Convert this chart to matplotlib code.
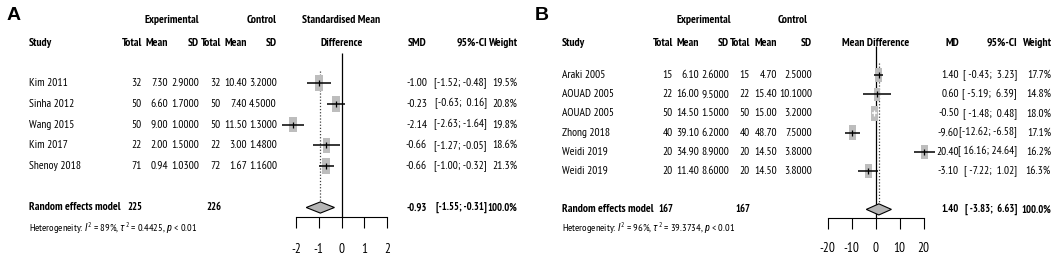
import numpy as np
import matplotlib
matplotlib.use("Agg")
import matplotlib.pyplot as plt
import matplotlib.transforms as mtransforms
from matplotlib.path import Path
from matplotlib.patches import Polygon

plt.rcParams["font.family"] = ["PT Sans Narrow", "Liberation Sans", "DejaVu Sans"]
plt.rcParams["axes.unicode_minus"] = False
plt.rcParams["mathtext.fontset"] = "custom"
plt.rcParams["mathtext.rm"] = "PT Sans Narrow"
plt.rcParams["mathtext.it"] = "Roboto Condensed:italic"

# -------- panel A data (standardised mean difference)
studies_a = ["Kim 2011", "Sinha 2012", "Wang 2015", "Kim 2017", "Shenoy 2018"]
n_e_a = [32, 50, 50, 22, 71]
mean_e_a = [7.30, 6.60, 9.00, 2.00, 0.94]
sd_e_a = [2.9, 1.7, 1.0, 1.5, 1.03]
n_c_a = [32, 50, 50, 22, 72]
mean_c_a = [10.40, 7.40, 11.50, 3.00, 1.67]
sd_c_a = [3.2, 4.5, 1.3, 1.48, 1.16]
est_a = [-1.00, -0.23, -2.14, -0.66, -0.66]
lo_a = [-1.52, -0.63, -2.63, -1.27, -1.00]
hi_a = [-0.48, 0.16, -1.64, -0.05, -0.32]
weight_a = [19.5, 20.8, 19.8, 18.6, 21.3]
pooled_a = [-0.93, -1.55, -0.31]
totals_a = [225, 226]
het_a = r"Heterogeneity: $I^2$ = 89%, $\tau^2$ = 0.4425, $p$ < 0.01"
ticks_a = [-2, -1, 0, 1, 2]

# -------- panel B data (mean difference)
studies_b = ["Araki 2005", "AOUAD 2005", "AOUAD 2005", "Zhong 2018", "Weidi 2019", "Weidi 2019"]
n_e_b = [15, 22, 50, 40, 20, 20]
mean_e_b = [6.10, 16.00, 14.50, 39.10, 34.90, 11.40]
sd_e_b = [2.6, 9.5, 1.5, 6.2, 8.9, 8.6]
n_c_b = [15, 22, 50, 40, 20, 20]
mean_c_b = [4.70, 15.40, 15.00, 48.70, 14.50, 14.50]
sd_c_b = [2.5, 10.1, 3.2, 7.5, 3.8, 3.8]
est_b = [1.40, 0.60, -0.50, -9.60, 20.40, -3.10]
lo_b = [-0.43, -5.19, -1.48, -12.62, 16.16, -7.22]
hi_b = [3.23, 6.39, 0.48, -6.58, 24.64, 1.02]
weight_b = [17.7, 14.8, 18.0, 17.1, 16.2, 16.3]
pooled_b = [1.40, -3.83, 6.63]
totals_b = [167, 167]
het_b = r"Heterogeneity: $I^2$ = 96%, $\tau^2$ = 39.3734, $p$ < 0.01"
ticks_b = [-20, -10, 0, 10, 20]

W, H = 1053, 256
fig = plt.figure(figsize=(W / 100, H / 100), dpi=100)


def fx(px):
    return px / W


def fy(py):
    return 1 - py / H


FS = 8.3
FS_SUM = 7.6
BOX = Path([(-0.25, -0.5), (0.25, -0.5), (0.25, 0.5), (-0.25, 0.5), (-0.25, -0.5)], closed=True)


def ci_text(lo, hi):
    wl = max(len(f"{v:.2f}") for v in lo)
    wh = max(len(f"{v:.2f}") for v in hi)
    return ["[" + f"{a:.2f}".rjust(wl) + "; " + f"{b:.2f}".rjust(wh) + "]" for a, b in zip(lo, hi)]


def panel(g, studies, n_e, mean_e, sd_e, n_c, mean_c, sd_c, est, lo, hi, weight,
          pooled, totals, het, ticks):
    k = len(studies)
    # forest axes placed in pixels, data scale from zero position and px per unit
    left, right, top, bottom = g["ax_px"]
    ax = fig.add_axes([fx(left), fy(bottom), (right - left) / W, (bottom - top) / H])
    ax.set_xlim((left - g["zero"]) / g["scale"], (right - g["zero"]) / g["scale"])
    ax.set_ylim((bottom - g["y0"]) / g["dy"], (top - g["y0"]) / g["dy"])
    ax.patch.set_visible(False)
    for s in ["top", "right", "left"]:
        ax.spines[s].set_visible(False)
    ax.spines["bottom"].set_bounds(ticks[0], ticks[-1])
    ax.spines["bottom"].set_linewidth(0.8)
    ax.set_xticks(ticks)
    ax.set_xticklabels([str(t) for t in ticks])
    ax.set_yticks([])
    ax.tick_params(axis="x", length=8, width=0.8, pad=g["tpad"], labelsize=9.5)

    rows = np.arange(k)
    ys = k + 1
    ybot = ax.get_ylim()[0]
    ax.vlines(0, g["zero_top"], ybot, color="black", lw=0.9, zorder=1)
    ax.vlines(pooled[0], -0.6, ys - 0.3, color="0.25", lw=0.9, linestyles=(0, (1, 1.5)), zorder=1)

    sizes = [g["box"] ** 2 * w / max(weight) for w in weight]
    ax.scatter(est, rows, s=sizes, marker=BOX, color="#bdbdbd", lw=0, zorder=2)
    pxu = ax.transData.transform([(1, 0)])[0][0] - ax.transData.transform([(0, 0)])[0][0]
    for i in range(k):
        box_w = 0.5 * np.sqrt(sizes[i]) * 100 / 72
        col = "white" if (hi[i] - lo[i]) * pxu < box_w else "black"
        ax.plot([lo[i], hi[i]], [i, i], color=col, lw=1.1, zorder=3, solid_capstyle="butt")
        ax.plot(est[i], i, marker="|", ms=4, mew=0.9, color=col, zorder=4)
    dh = g["dh"]
    ax.add_patch(Polygon([(pooled[1], ys), (pooled[0], ys - dh), (pooled[2], ys), (pooled[0], ys + dh)],
                         closed=True, facecolor="#b5b5b5", edgecolor="black", lw=0.8, zorder=3))

    tr = mtransforms.blended_transform_factory(fig.transFigure, ax.transData)
    c = g["cols"]
    cis = ci_text(lo + [pooled[1]], hi + [pooled[2]])
    for i in range(k):
        ax.text(fx(c["study"]), i, studies[i], transform=tr, ha="left", va="center", fontsize=FS)
        vals = [str(n_e[i]), f"{mean_e[i]:.2f}", f"{sd_e[i]:.4f}",
                str(n_c[i]), f"{mean_c[i]:.2f}", f"{sd_c[i]:.4f}",
                f"{est[i]:.2f}", cis[i], f"{weight[i]:.1f}%"]
        for key, v in zip(["ne", "me", "se", "nc", "mc", "sc", "est", "ci", "w"], vals):
            ax.text(fx(c[key]), i, v, transform=tr, ha="right", va="center", fontsize=FS)

    ax.text(fx(c["study"]), ys, "Random effects model", transform=tr, ha="left", va="center",
            fontsize=FS, fontweight="bold")
    for key, v in zip(["ne", "nc", "est", "ci", "w"],
                      [str(totals[0]), str(totals[1]), f"{pooled[0]:.2f}", cis[-1], "100.0%"]):
        ax.text(fx(c[key]), ys, v, transform=tr, ha="right", va="center", fontsize=FS_SUM,
                fontweight="bold")
    ax.text(fx(c["study"]), ys + 1, het, transform=tr, ha="left", va="center", fontsize=7.5)

    # headers
    hb = dict(fontsize=FS, fontweight="bold", va="center")
    fig.text(fx(g["label_x"]), fy(16), g["label"], fontsize=14, fontweight="bold",
             family="Liberation Sans", va="center", ha="left")
    fig.text(fx(c["exp_c"]), fy(20), "Experimental", ha="center", **hb)
    fig.text(fx(c["ctl_c"]), fy(20), "Control", ha="center", **hb)
    fig.text(fx(c["study"]), fy(43), "Study", ha="left", **hb)
    for key, v in zip(["ne", "me", "se", "nc", "mc", "sc", "est", "ci", "w"],
                      ["Total", "Mean", "SD", "Total", "Mean", "SD", g["eff"], "95%-CI", "Weight"]):
        fig.text(fx(c[key]), fy(43), v, ha="right", **hb)
    for yy, t in g["title"]:
        fig.text(fx(g["zero"]), fy(yy), t, ha="center", **hb)
    return ax


geom_a = dict(ax_px=(268, 412, 40, 217), zero=341.5, scale=22.75, y0=83, dy=20.75, tpad=11,
              zero_top=-1.45, box=11.5, dh=0.27, label="A", label_x=7, eff="SMD",
              title=[(20, "Standardised Mean"), (43, "Difference")],
              cols=dict(study=29, ne=142, me=168, se=199, nc=221, mc=247, sc=277,
                        est=427, ci=487, w=517, exp_c=172, ctl_c=262))
geom_b = dict(ax_px=(812, 942, 35, 218), zero=875.5, scale=2.4, y0=75, dy=19.2, tpad=9.5,
              zero_top=-1.5, box=10.5, dh=0.29, label="B", label_x=535, eff="MD",
              title=[(43, "Mean Difference")],
              cols=dict(study=562, ne=673, me=699, se=729, nc=750, mc=777, sc=812,
                        est=959, ci=1017, w=1051, exp_c=704, ctl_c=793))

panel(geom_a, studies_a, n_e_a, mean_e_a, sd_e_a, n_c_a, mean_c_a, sd_c_a,
      est_a, lo_a, hi_a, weight_a, pooled_a, totals_a, het_a, ticks_a)
panel(geom_b, studies_b, n_e_b, mean_e_b, sd_e_b, n_c_b, mean_c_b, sd_c_b,
      est_b, lo_b, hi_b, weight_b, pooled_b, totals_b, het_b, ticks_b)

fig.savefig("out.png", dpi=100)
